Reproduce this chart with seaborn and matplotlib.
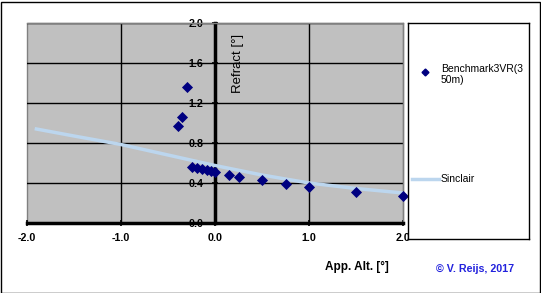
import matplotlib
matplotlib.use("Agg")
import matplotlib.pyplot as plt
import seaborn as sns
from matplotlib.lines import Line2D

# Benchmark3VR (350m) points
bench_x = [-0.39, -0.35, -0.30, -0.24, -0.19, -0.14, -0.09, -0.045, 0.0,
           0.15, 0.26, 0.50, 0.76, 1.00, 1.50, 2.00]
bench_y = [0.97, 1.06, 1.36, 0.56, 0.55, 0.54, 0.53, 0.525, 0.515,
           0.48, 0.46, 0.43, 0.39, 0.36, 0.31, 0.27]

# Sinclair curve
sinclair_x = [-1.9, -1.5, -1.0, -0.5, 0.0, 0.5, 1.0, 1.5, 2.0]
sinclair_y = [0.94, 0.87, 0.785, 0.68, 0.575, 0.48, 0.40, 0.345, 0.30]

x_ticks = [-2.0, -1.0, 0.0, 1.0, 2.0]
y_ticks = [0.0, 0.4, 0.8, 1.2, 1.6, 2.0]

plt.rcParams["font.family"] = ["Liberation Sans", "DejaVu Sans"]

W, H = 541, 293
fig = plt.figure(figsize=(W / 100, H / 100), dpi=100)
fig.patch.set_facecolor("white")

# outer frame
fig.add_artist(plt.Rectangle((0.5 / W, 0.5 / H), 1 - 2 / W, 1 - 2 / H,
                             transform=fig.transFigure, fill=False,
                             edgecolor="black", linewidth=1))

ax = fig.add_axes([27 / W, (H - 223) / H, 376 / W, 200 / H])
ax.set_facecolor("#c0c0c0")
ax.patch.set_edgecolor("#808080")
ax.patch.set_linewidth(1)

sns.lineplot(x=sinclair_x, y=sinclair_y, ax=ax, color="#bcd6ee",
             linewidth=2.5, legend=False, zorder=3)
sns.scatterplot(x=bench_x, y=bench_y, ax=ax, marker="D", s=32,
                color="#000080", edgecolor="#000080", linewidth=0,
                zorder=4, clip_on=False, legend=False)

ax.set_xlim(-2, 2)
ax.set_ylim(0, 2)
ax.set_xticks(x_ticks)
ax.set_yticks(y_ticks)
ax.set_xticklabels([f"{v:.1f}" for v in x_ticks])
ax.set_yticklabels([f"{v:.1f}" for v in y_ticks])

ax.grid(True, color="black", linewidth=1)
for i, g in enumerate(ax.xaxis.get_gridlines()):
    if x_ticks[i] in (-2.0, 0.0, 2.0):
        g.set_visible(False)
for i, g in enumerate(ax.yaxis.get_gridlines()):
    if y_ticks[i] in (0.0, 2.0):
        g.set_visible(False)
ax.set_axisbelow(True)

ax.spines["left"].set_position(("data", 0))
ax.spines["left"].set_linewidth(2.5)
ax.spines["left"].set_color("black")
ax.spines["bottom"].set_linewidth(2.5)
ax.spines["bottom"].set_color("black")
for s in ("top", "right"):
    ax.spines[s].set_color("#808080")
    ax.spines[s].set_linewidth(1)

ax.tick_params(axis="both", direction="inout", length=5, width=1.2,
               colors="black", labelsize=7.7)
ax.tick_params(axis="y", pad=6)
ax.tick_params(axis="x", pad=5)
for lab in ax.get_xticklabels() + ax.get_yticklabels():
    lab.set_fontweight("bold")

ax.set_xlabel("")
ax.set_ylabel("")
fig.text(238 / W, 1 - 63 / H, "Refract [°]", rotation=90, ha="center",
         va="center", fontsize=9.5)
fig.text(357 / W, 1 - 267 / H, "App. Alt. [°]", ha="center", va="center",
         fontsize=8.5, fontweight="bold")
fig.text(475 / W, 1 - 269 / H, "© V. Reijs, 2017", ha="center",
         va="center", fontsize=7.7, fontweight="bold", color="#2222dd")

# legend box
lax = fig.add_axes([408 / W, (H - 239) / H, 121 / W, 216 / H])
lax.set_xlim(408, 529)
lax.set_ylim(239, 23)
lax.set_xticks([])
lax.set_yticks([])
for s in lax.spines.values():
    s.set_color("black")
    s.set_linewidth(1)
lax.add_line(Line2D([425], [72], marker="D", markersize=3.5, color="#000080",
                    linestyle="none"))
lax.text(441, 64, "Benchmark3VR(3\n50m)", ha="left", va="top",
         fontsize=7.5, linespacing=1.15)
lax.add_line(Line2D([412, 439], [179, 179], color="#bcd6ee", linewidth=2.5))
lax.text(441, 179, "Sinclair", ha="left", va="center", fontsize=7.5)

fig.savefig("out.png", dpi=100)
